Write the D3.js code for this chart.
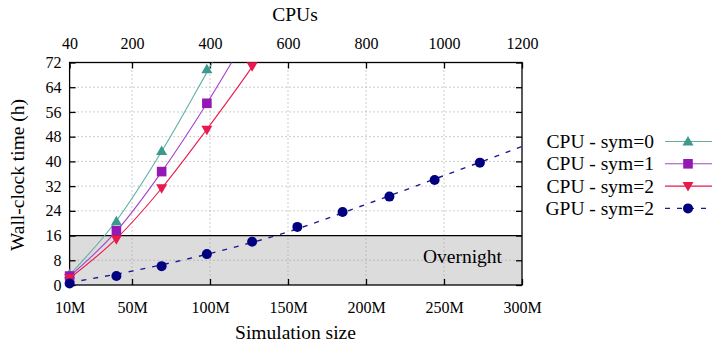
<!DOCTYPE html>
<html>
<head>
<meta charset="utf-8">
<script src="https://cdn.jsdelivr.net/npm/d3@7"></script>
<style>
  body { margin: 0; background: #fff; }
  text { font-family: "Liberation Serif", "Times New Roman", serif; fill: #000; }
</style>
</head>
<body>
<div id="chart"></div>
<script>
// measured points (size in millions)
const cpuSizes = [10, 40, 69, 98];
const cpuSym0 = [3.5, 20.6, 43.4, 69.8];
const cpuSym1 = [2.9, 17.6, 36.7, 58.8];
const cpuSym2Sizes = [10, 40, 69, 98, 127];
const cpuSym2 = [2.2, 14.8, 31.3, 50.2, 70.8];
const gpuSizes = [10, 40, 69, 98, 127, 156, 185, 215, 244, 273];
const gpuSym2 = [0.5, 2.9, 6.1, 10.0, 14.0, 18.8, 23.6, 28.6, 34.0, 39.6];

// fitted curves
const fit0Sizes = [10, 40, 69, 98, 106];
const fit0Values = [3.3, 20.8, 43.2, 68.8, 76];
const fit1Sizes = [10, 40, 69, 98, 118];
const fit1Values = [2.8, 17.4, 36.6, 58.8, 75.5];
const fit2Sizes = [10, 40, 69, 98, 127, 133];
const fit2Values = [2.2, 15.0, 31.3, 50.4, 70.6, 75];
const gpuFitSizes = [10, 50, 100, 150, 200, 250, 300];
const gpuFitValues = [0.8, 4.5, 10.2, 17.2, 26.1, 35.4, 44.8];

const sizeTicks = [10, 50, 100, 150, 200, 250, 300];
const cpuTicks = [40, 200, 400, 600, 800, 1000, 1200];
const yTicks = [0, 8, 16, 24, 32, 40, 48, 56, 64, 72];
const overnight = 16;

const series = [
  { name: 'CPU - sym=0', xs: cpuSizes, ys: cpuSym0, fx: fit0Sizes, fy: fit0Values, color: '#3a9a8c', line: '#5fb0a4', shape: 'up' },
  { name: 'CPU - sym=1', xs: cpuSizes, ys: cpuSym1, fx: fit1Sizes, fy: fit1Values, color: '#9419b4', line: '#a640d0', shape: 'square' },
  { name: 'CPU - sym=2', xs: cpuSym2Sizes, ys: cpuSym2, fx: fit2Sizes, fy: fit2Values, color: '#e8194c', line: '#e8194c', shape: 'down' },
  { name: 'GPU - sym=2', xs: gpuSizes, ys: gpuSym2, fx: gpuFitSizes, fy: gpuFitValues, color: '#000080', line: '#1a1a8c', shape: 'circle', dash: '5,7' }
];

const W = 712, H = 344;
const m = { left: 69.6, right: 522, top: 62.5, bottom: 285 };
const serif = '"Liberation Serif", "Times New Roman", serif';

const svg = d3.select('#chart').append('svg')
  .attr('width', W).attr('height', H);

const x = d3.scaleLinear().domain([10, 300]).range([m.left, m.right]);
const xTop = d3.scaleLinear().domain([40, 1200]).range([m.left, m.right]);
const y = d3.scaleLinear().domain([0, 72]).range([m.bottom, m.top]);

svg.append('defs').append('clipPath').attr('id', 'plot')
  .append('rect').attr('x', m.left).attr('y', m.top)
  .attr('width', m.right - m.left).attr('height', m.bottom - m.top);

// overnight band
svg.append('rect')
  .attr('x', m.left).attr('y', y(overnight))
  .attr('width', m.right - m.left).attr('height', y(0) - y(overnight))
  .attr('fill', '#dcdcdc');

// grid
svg.append('g').selectAll('line')
  .data(yTicks.filter(d => d > 0 && d < 72 && d !== overnight))
  .enter().append('line')
  .attr('x1', m.left).attr('x2', m.right)
  .attr('y1', d => y(d)).attr('y2', d => y(d))
  .attr('stroke', '#9a9a9a').attr('stroke-width', 1)
  .attr('stroke-dasharray', '1,3');
svg.append('g').selectAll('line')
  .data(cpuTicks.slice(1, -1))
  .enter().append('line')
  .attr('x1', d => xTop(d)).attr('x2', d => xTop(d))
  .attr('y1', m.top).attr('y2', m.bottom)
  .attr('stroke', '#9a9a9a').attr('stroke-width', 1)
  .attr('stroke-dasharray', '1,3');

svg.append('line')
  .attr('x1', m.left).attr('x2', m.right)
  .attr('y1', y(overnight)).attr('y2', y(overnight))
  .attr('stroke', '#000').attr('stroke-width', 1.3);

svg.append('text')
  .attr('x', 502).attr('y', 263)
  .attr('text-anchor', 'end')
  .style('font-size', '19.5px')
  .text('Overnight');

// axes with inward ticks
const tickLen = 6;
const axes = [];
axes.push(svg.append('g')
  .attr('transform', `translate(0,${m.bottom})`)
  .call(d3.axisBottom(x).tickValues(sizeTicks).tickSize(-tickLen).tickPadding(tickLen + 11)
    .tickFormat(d => d + 'M')));
axes.push(svg.append('g')
  .attr('transform', `translate(0,${m.top})`)
  .call(d3.axisTop(xTop).tickValues(cpuTicks).tickSize(-tickLen).tickPadding(tickLen + 8)
    .tickFormat(d3.format('d'))));
axes.push(svg.append('g')
  .attr('transform', `translate(${m.left},0)`)
  .call(d3.axisLeft(y).tickValues(yTicks).tickSize(-tickLen).tickPadding(tickLen + 2)
    .tickFormat(d3.format('d'))));
axes.push(svg.append('g')
  .attr('transform', `translate(${m.right},0)`)
  .call(d3.axisRight(y).tickValues(yTicks).tickSize(-tickLen).tickFormat('')));

axes.forEach(a => a.attr('font-family', serif).attr('font-size', 16));
svg.selectAll('.domain').remove();
svg.selectAll('.tick line').attr('stroke', '#000').attr('stroke-width', 1.3);
svg.selectAll('.tick text')
  .style('font-family', serif)
  .style('font-size', '16px')
  .attr('fill', '#000');

// frame
svg.append('rect')
  .attr('x', m.left).attr('y', m.top)
  .attr('width', m.right - m.left).attr('height', m.bottom - m.top)
  .attr('fill', 'none').attr('stroke', '#000').attr('stroke-width', 1.3);

// titles
svg.append('text').attr('x', 295).attr('y', 21)
  .attr('text-anchor', 'middle').style('font-size', '19.5px').text('CPUs');
svg.append('text').attr('x', 295.5).attr('y', 339)
  .attr('text-anchor', 'middle').style('font-size', '19.5px').text('Simulation size');
svg.append('text')
  .attr('transform', 'translate(24,175) rotate(-90)')
  .attr('text-anchor', 'middle').style('font-size', '19.5px').text('Wall-clock time (h)');

// markers
function marker(g, shape, color) {
  if (shape === 'circle') {
    g.append('circle').attr('r', 5).attr('fill', color);
  } else if (shape === 'square') {
    g.append('rect').attr('x', -4.8).attr('y', -4.8).attr('width', 9.6).attr('height', 9.6).attr('fill', color);
  } else if (shape === 'up') {
    g.append('path').attr('d', 'M0,-5.5L5.5,4L-5.5,4Z').attr('fill', color);
  } else {
    g.append('path').attr('d', 'M0,5.5L5.5,-4L-5.5,-4Z').attr('fill', color);
  }
}

const line = d3.line().curve(d3.curveMonotoneX);
const plot = svg.append('g').attr('clip-path', 'url(#plot)');

series.forEach(s => {
  plot.append('path')
    .attr('d', line(s.fx.map((v, i) => [x(v), y(s.fy[i])])))
    .attr('fill', 'none')
    .attr('stroke', s.line)
    .attr('stroke-width', s.dash ? 1.4 : 1.1)
    .attr('stroke-dasharray', s.dash || null);
});

series.forEach(s => {
  s.xs.forEach((v, i) => {
    const g = svg.append('g').attr('transform', `translate(${x(v)},${y(s.ys[i])})`);
    marker(g, s.shape, s.color);
  });
});

// legend
const legend = svg.append('g');
series.forEach((s, i) => {
  const ly = 141.5 + i * 22.3;
  legend.append('text')
    .attr('x', 654).attr('y', ly + 6.5)
    .attr('text-anchor', 'end')
    .style('font-size', '19.5px')
    .text(s.name);
  legend.append('line')
    .attr('x1', 665).attr('x2', 712)
    .attr('y1', ly).attr('y2', ly)
    .attr('stroke', s.line)
    .attr('stroke-width', s.dash ? 1.4 : 1.1)
    .attr('stroke-dasharray', s.dash || null);
  const g = legend.append('g').attr('transform', `translate(688,${ly})`);
  marker(g, s.shape, s.color);
});
</script>
</body>
</html>
